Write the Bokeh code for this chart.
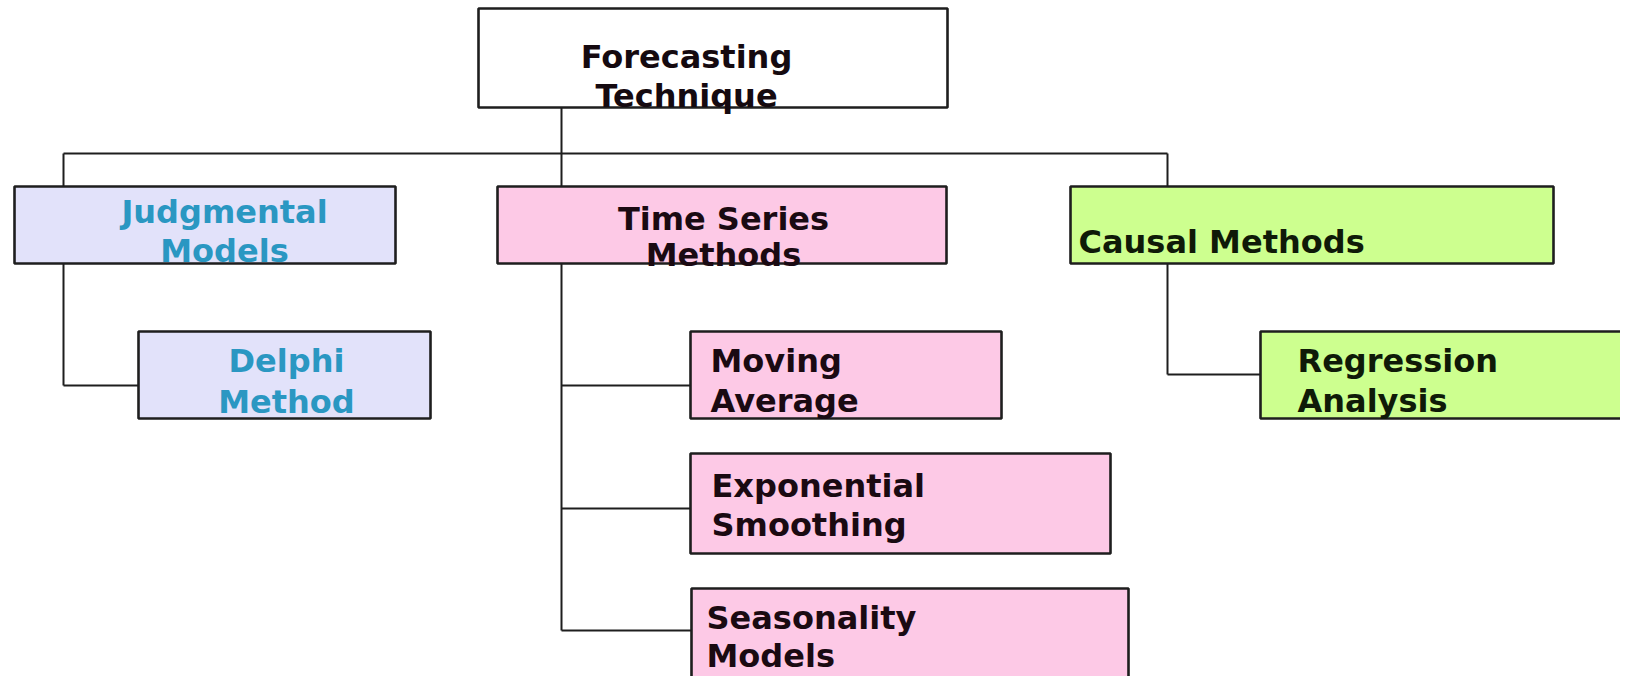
from bokeh.plotting import figure
from bokeh.models import Range1d, ColumnDataSource
from bokeh.core.properties import value
from bokeh.embed import file_html
from bokeh.resources import INLINE

# ---- data: the tree ----
node_names = ["Forecasting Technique", "Judgmental Models", "Time Series Methods",
              "Causal Methods", "Delphi Method", "Moving Average",
              "Exponential Smoothing", "Seasonality Models", "Regression Analysis"]
node_lines = [["Forecasting", "Technique"], ["Judgmental", "Models"],
              ["Time Series", "Methods"], ["Causal Methods"], ["Delphi", "Method"],
              ["Moving", "Average"], ["Exponential", "Smoothing"],
              ["Seasonality", "Models"], ["Regression", "Analysis"]]
node_parent = [None, 0, 0, 0, 1, 2, 2, 2, 3]
node_group = ["root", "judg", "ts", "causal", "judg", "ts", "ts", "ts", "causal"]

# ---- styles ----
fills = {"root": "#FFFFFF", "judg": "#E2E2FA", "ts": "#FDC9E6", "causal": "#CDFF8F"}
text_colors = {"root": "#150A10", "judg": "#2A97C2", "ts": "#1A0A12", "causal": "#0F1A08"}
FONT = "DejaVu Sans"
FONT_SIZE = "32px"

# ---- layout (window pixel frame) ----
# box: left, right, top, bottom ; tx: text anchor ; align ; baselines ; stem: x of the
# vertical connector leaving this box ; enter: y where the elbow reaches the child box
layout = [
    dict(box=(478, 947, 8, 107), tx=686, align="center", base=[56, 95], stem=561),
    dict(box=(14, 395, 186, 263), tx=224, align="center", base=[211, 250], stem=63),
    dict(box=(497, 946, 186, 263), tx=723, align="center", base=[218, 254], stem=561),
    dict(box=(1070, 1553, 186, 263), tx=1078, align="left", base=[241], stem=1167),
    dict(box=(138, 430, 331, 418), tx=286, align="center", base=[360, 401], enter=385),
    dict(box=(690, 1001, 331, 418), tx=710, align="left", base=[360, 400], enter=385),
    dict(box=(690, 1110, 453, 553), tx=711, align="left", base=[485, 524], enter=508),
    dict(box=(691, 1128, 588, 720), tx=706, align="left", base=[617, 655], enter=630),
    dict(box=(1260, 1680, 331, 418), tx=1297, align="left", base=[360, 400], enter=374),
]
BUS_Y = 153

W, H = 1620, 676
p = figure(width=W, height=H, x_range=Range1d(0, W), y_range=Range1d(H, 0),
           output_backend="svg", toolbar_location=None, min_border=0)
p.axis.visible = False
p.xgrid.visible = False
p.ygrid.visible = False
p.outline_line_color = None
p.background_fill_color = "white"
p.border_fill_color = "white"

# ---- connectors ----
xs, ys = [], []
root = 0
rl = layout[root]
level1 = [i for i, par in enumerate(node_parent) if par == root]
xs.append([rl["stem"], rl["stem"]]); ys.append([rl["box"][3], BUS_Y])
bus_x = [layout[i]["stem"] for i in level1]
xs.append([min(bus_x), max(bus_x)]); ys.append([BUS_Y, BUS_Y])
for i in level1:
    L = layout[i]
    xs.append([L["stem"], L["stem"]]); ys.append([BUS_Y, L["box"][2]])
    kids = [k for k, par in enumerate(node_parent) if par == i]
    if kids:
        last = max(layout[k]["enter"] for k in kids)
        xs.append([L["stem"], L["stem"]]); ys.append([L["box"][3], last])
        for k in kids:
            K = layout[k]
            xs.append([L["stem"], K["box"][0]]); ys.append([K["enter"], K["enter"]])
p.multi_line(xs, ys, line_color="#1E1E1E", line_width=2)

# ---- boxes ----
box_src = ColumnDataSource(dict(
    left=[layout[i]["box"][0] for i in range(len(node_names))],
    right=[layout[i]["box"][1] for i in range(len(node_names))],
    top=[layout[i]["box"][2] for i in range(len(node_names))],
    bottom=[layout[i]["box"][3] for i in range(len(node_names))],
    fill=[fills[g] for g in node_group],
))
p.quad(left="left", right="right", top="top", bottom="bottom", source=box_src,
       fill_color="fill", line_color="#1E1E1E", line_width=2.6)

# ---- labels ----
for align in ("center", "left"):
    tx, ty, tt, tc = [], [], [], []
    for i, lines in enumerate(node_lines):
        L = layout[i]
        if L["align"] != align:
            continue
        for line, b in zip(lines, L["base"]):
            tx.append(L["tx"]); ty.append(b); tt.append(line)
            tc.append(text_colors[node_group[i]])
    p.text(x=tx, y=ty, text=tt, text_color=tc, text_align=align,
           text_baseline="alphabetic", text_font=value(FONT),
           text_font_style="bold", text_font_size=FONT_SIZE)

open("out.html", "w").write(file_html(p, INLINE))
